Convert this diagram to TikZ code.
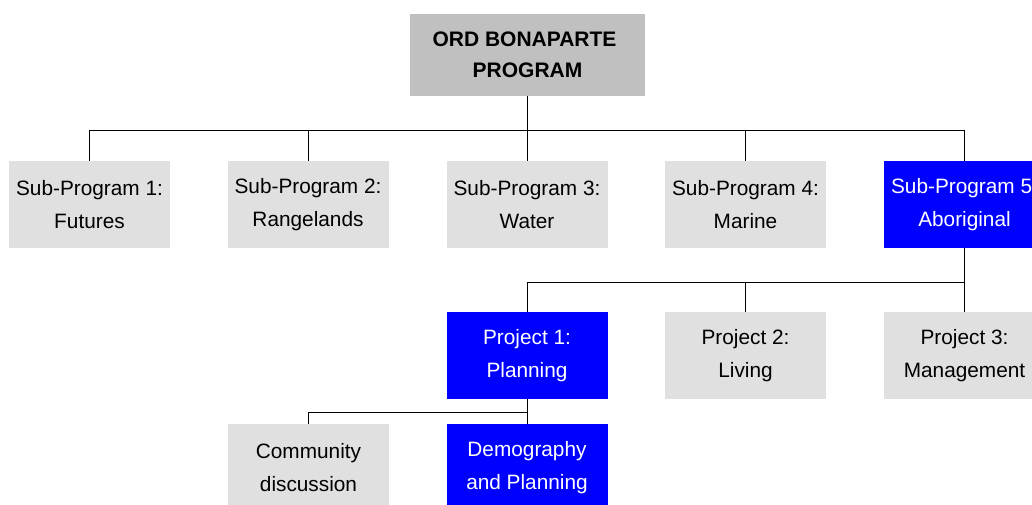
\documentclass[tikz,border=0pt]{standalone}
\usepackage{fontspec}
\setmainfont{Liberation Sans}
\definecolor{boxgray}{RGB}{224,224,224}
\definecolor{headgray}{RGB}{192,192,192}
\definecolor{unitblue}{RGB}{0,0,255}
\begin{document}
\begin{tikzpicture}[x=1pt,y=-1pt,
  unit/.style={rectangle, inner sep=0pt, minimum width=161pt, minimum height=87pt,
    align=center, font=\fontsize{20.8}{32.5}\selectfont},
  plain/.style={unit, fill=boxgray, text=black},
  active/.style={unit, fill=unitblue, text=white},
  head/.style={rectangle, inner sep=0pt, minimum width=235pt, minimum height=82pt,
    align=center, fill=headgray, font=\fontsize{21}{31}\selectfont\bfseries},
  link/.style={draw=black, line width=1pt}]
\useasboundingbox (0,0) rectangle (1032,504);
\clip (0,0) rectangle (1032,504);
\fill[white] (0,0) rectangle (1032,504);

% programme head
\node[head] (top) at (527.5,55) {ORD BONAPARTE\hspace*{6pt}\\PROGRAM};

% sub-programs
\node[plain]  (sub1) at (89.5,204.5)  {Sub-Program 1:\\Futures};
\node[plain]  (sub2) at (308,204.5)   {Sub-Program 2:\\Rangelands};
\node[plain]  (sub3) at (527,204.5)   {Sub-Program 3:\\Water};
\node[plain]  (sub4) at (745.5,204.5) {Sub-Program 4:\\Marine};
\node[active] (sub5) at (964.5,204.5) {Sub-Program 5\phantom{:}\\Aboriginal};

% projects of sub-program 5
\node[active] (p1) at (527,355.5)   {Project 1:\\Planning};
\node[plain]  (p2) at (745.5,355.5) {Project 2:\\Living};
\node[plain]  (p3) at (964.5,355.5) {Project 3:\\Management};

% tasks of project 1
\node[plain]  (t1) at (308.5,467.5) {Community\\discussion};
\node[active] (t2) at (527,467.5)   {Demography\\and Planning};

% junction points of the tree
\coordinate (busA) at (527.5,130);
\coordinate (busB) at (964.5,282);
\coordinate (busC) at (527,412);

\draw[link] (top.south) -- (busA);
\draw[link] (sub1.north) |- (busA);
\draw[link] (sub2.north) |- (busA);
\draw[link] (sub3.north) |- (busA);
\draw[link] (sub4.north) |- (busA);
\draw[link] (sub5.north) |- (busA);

\draw[link] (sub5.south) -- (busB);
\draw[link] (p1.north) |- (busB);
\draw[link] (p2.north) |- (busB);
\draw[link] (p3.north) -- (busB);

\draw[link] (p1.south) -- (busC);
\draw[link] (t1.north) |- (busC);
\draw[link] (t2.north) -- (busC);
\end{tikzpicture}
\end{document}
